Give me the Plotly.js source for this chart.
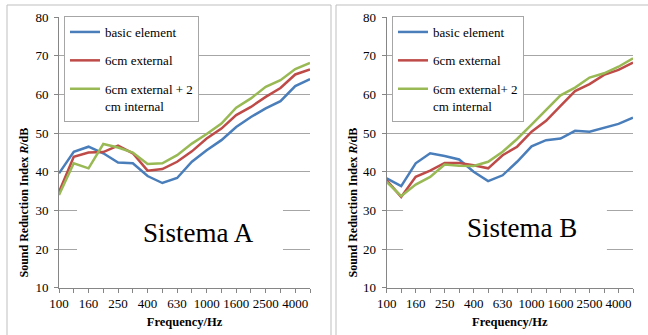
<!DOCTYPE html>
<html><head><meta charset="utf-8">
<script src="https://cdn.plot.ly/plotly-3.0.1.min.js"></script>
<style>html,body{margin:0;padding:0;background:#fff}#chart{width:648px;height:335px}</style>
</head><body><div id="chart"></div>
<script>
const frequencies = ['100','125','160','200','250','315','400','500','630','800','1000','1250','1600','2000','2500','3150','4000','5000'];
const tickLabels = ['100','','160','','250','','400','','630','','1000','','1600','','2500','','4000',''];
const namesA = ['basic element','6cm external','6cm external + 2<br>cm internal'];
const namesB = ['basic element','6cm external','6cm external+ 2<br>cm internal'];
const panelLabels = ['Sistema A','Sistema B'];
const yTitle = '<b>Sound Reduction Index <i>R</i>/dB</b>';
const xTitle = '<b>Frequency/Hz</b>';

const sistemaA_basic   = [39.6,45.2,46.5,44.8,42.4,42.2,38.9,37.1,38.4,42.6,45.6,48.2,51.6,54.2,56.4,58.3,62.2,64.0];
const sistemaA_ext6    = [34.8,43.9,45.0,45.1,46.8,44.8,40.3,40.7,42.6,45.3,48.6,51.2,54.7,56.8,59.4,61.7,65.2,66.5];
const sistemaA_ext6int = [34.0,42.2,40.9,47.2,46.3,45.0,42.0,42.2,44.3,47.3,49.8,52.5,56.6,59.0,62.0,63.7,66.6,68.2];

const sistemaB_basic   = [38.3,36.3,42.2,44.8,44.1,43.2,40.0,37.6,39.1,42.6,46.6,48.2,48.6,50.6,50.4,51.4,52.4,54.0];
const sistemaB_ext6    = [37.8,33.5,38.7,40.3,42.3,42.3,41.7,40.9,44.3,46.5,50.4,53.2,57.1,60.9,62.7,65.1,66.4,68.3];
const sistemaB_ext6int = [37.4,33.7,36.7,38.7,41.9,41.6,41.5,42.6,45.2,48.5,52.2,56.0,59.8,61.8,64.4,65.5,67.2,69.4];

const colors = ['#4A7EBB','#BE4B48','#98B954'];
const FONT = 'Liberation Serif, Times New Roman, serif';
const W = 648, H = 335;

function mk(y, name, i, xa, ya, leg, grp) {
  return {x: frequencies, y: y, name: name, type: 'scatter', mode: 'lines',
    line: {color: colors[i], width: 2.5}, xaxis: xa, yaxis: ya, legend: leg,
    legendgroup: grp, hoverinfo: 'x+y+name'};
}
const data = [
  mk(sistemaA_basic, namesA[0], 0, 'x', 'y', 'legend', 'a0'),
  mk(sistemaA_ext6, namesA[1], 1, 'x', 'y', 'legend', 'a1'),
  mk(sistemaA_ext6int, namesA[2], 2, 'x', 'y', 'legend', 'a2'),
  mk(sistemaB_basic, namesB[0], 0, 'x2', 'y2', 'legend2', 'b0'),
  mk(sistemaB_ext6, namesB[1], 1, 'x2', 'y2', 'legend2', 'b1'),
  mk(sistemaB_ext6int, namesB[2], 2, 'x2', 'y2', 'legend2', 'b2')
];

const yDom = [1 - 287.7/H, 1 - 17.3/H];
function xax(dom, anchor) {
  return {domain: dom, anchor: anchor, type: 'category', range: [0, 17],
    tickmode: 'array', tickvals: frequencies, ticktext: tickLabels, tickangle: 0,
    ticks: 'outside', ticklen: 4, tickcolor: '#868686', tickwidth: 1,
    showline: true, linecolor: '#868686', linewidth: 1, showgrid: false, zeroline: false,
    tickfont: {family: FONT, size: 13, color: '#000'},
    title: {text: xTitle, font: {family: FONT, size: 12.5, color: '#000'}, standoff: 6},
    automargin: false, fixedrange: true};
}
function yax(anchor) {
  return {domain: yDom, anchor: anchor, range: [10, 80], tick0: 10, dtick: 10,
    ticks: 'outside', ticklen: 4, tickcolor: '#868686', tickwidth: 1,
    showline: true, linecolor: '#868686', linewidth: 1,
    showgrid: true, gridcolor: '#a6a6a6', gridwidth: 1, zeroline: false,
    tickfont: {family: FONT, size: 13, color: '#000'}, ticklabelstandoff: 3,
    automargin: false, fixedrange: true};
}
function legend(xp) {
  return {x: xp/W, y: 1 - 16/H, xanchor: 'left', yanchor: 'top', bgcolor: '#fff',
    bordercolor: '#a6a6a6', borderwidth: 1, font: {family: FONT, size: 13, color: '#000'},
    tracegroupgap: 8.5, valign: 'top', traceorder: 'grouped'};
}

const layout = {
  width: W, height: H, margin: {l: 0, r: 0, t: 0, b: 0},
  paper_bgcolor: '#fff', plot_bgcolor: 'rgba(0,0,0,0)', showlegend: true,
  xaxis: xax([59/W, 310/W], 'y'),
  yaxis: yax('x'),
  xaxis2: xax([386.7/W, 633/W], 'y2'),
  yaxis2: yax('x2'),
  legend: legend(64),
  legend2: legend(392),
  shapes: [
    {type: 'rect', xref: 'paper', yref: 'paper', x0: 7/W, x1: 331/W, y0: -0.05, y1: 1 - 5/H,
      line: {color: '#bfbfbf', width: 1}, fillcolor: 'rgba(0,0,0,0)', layer: 'below'},
    {type: 'rect', xref: 'paper', yref: 'paper', x0: 336/W, x1: 1.05, y0: -0.05, y1: 1 - 5/H,
      line: {color: '#bfbfbf', width: 1}, fillcolor: 'rgba(0,0,0,0)', layer: 'below'},
    {type: 'rect', xref: 'x', yref: 'y', x0: 1.22, x1: 15.17, y0: 16.6, y1: 36.3,
      line: {width: 0}, fillcolor: '#fff', layer: 'between'},
    {type: 'rect', xref: 'x2', yref: 'y2', x0: 1.13, x1: 15.2, y0: 16.6, y1: 35.5,
      line: {width: 0}, fillcolor: '#fff', layer: 'between'}
  ],
  annotations: [
    {text: panelLabels[0], xref: 'paper', yref: 'paper', x: 198/W, y: 1 - 232.7/H,
      xanchor: 'center', yanchor: 'middle',
      showarrow: false, font: {family: FONT, size: 27, color: '#000'}},
    {text: panelLabels[1], xref: 'paper', yref: 'paper', x: 522/W, y: 1 - 228/H,
      xanchor: 'center', yanchor: 'middle',
      showarrow: false, font: {family: FONT, size: 27, color: '#000'}},
    {text: yTitle, xref: 'paper', yref: 'paper', x: 23/W, y: 1 - 202.5/H, textangle: -90,
      xanchor: 'center', yanchor: 'middle',
      showarrow: false, font: {family: FONT, size: 12, color: '#000'}},
    {text: yTitle, xref: 'paper', yref: 'paper', x: 352/W, y: 1 - 202.5/H, textangle: -90,
      xanchor: 'center', yanchor: 'middle',
      showarrow: false, font: {family: FONT, size: 12, color: '#000'}}
  ]
};

Plotly.newPlot('chart', data, layout, {displayModeBar: false});
</script></body></html>
